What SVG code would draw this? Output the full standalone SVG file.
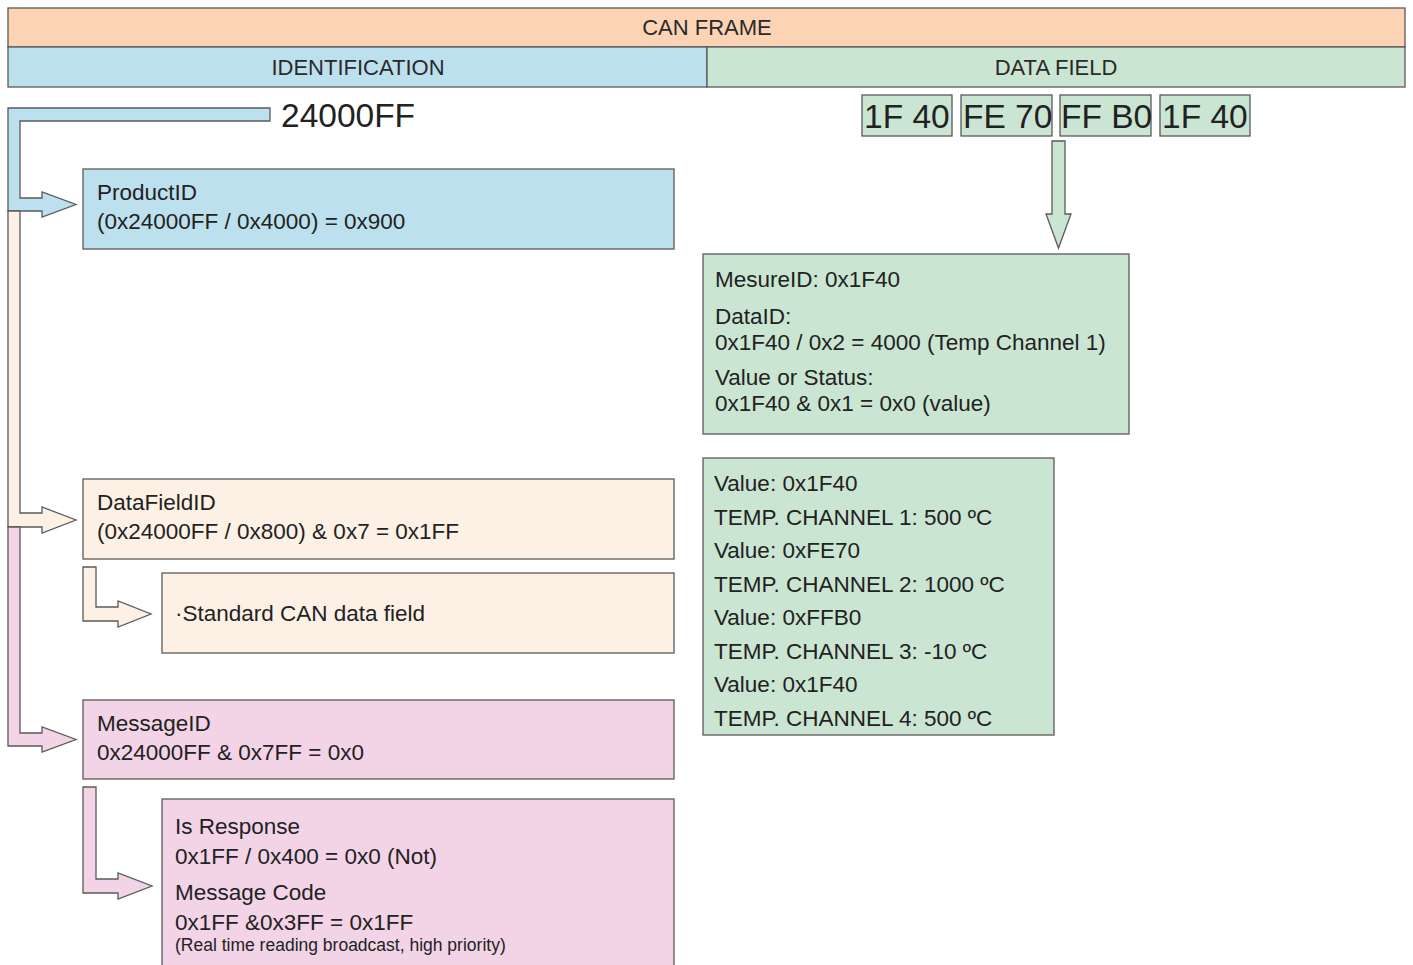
<svg xmlns="http://www.w3.org/2000/svg" width="1413" height="965" viewBox="0 0 1413 965">
<style>
  .t{font-family:"Liberation Sans",Arial,sans-serif;fill:#222;font-size:22.5px}
  .big{font-size:33.5px}
  .sm{font-size:17.5px}
  .hd{font-family:"Liberation Sans",Arial,sans-serif;fill:#2a2a2a;font-size:22px;text-anchor:middle}
  .b{stroke:#5a5a5a;stroke-width:1.3}
  .orange{fill:#fcd3b5}
  .blue{fill:#bde0ef}
  .green{fill:#cbe5d3}
  .beige{fill:#fdf1e6}
  .pink{fill:#f2d4e6}
</style>
<rect width="1413" height="965" fill="#ffffff"/>
<g id="header">
  <rect class="b orange" x="8" y="8" width="1397" height="39"/>
  <text class="hd" x="707" y="35">CAN FRAME</text>
  <rect class="b blue" x="8" y="47" width="699" height="40"/>
  <text class="hd" x="358" y="75">IDENTIFICATION</text>
  <rect class="b green" x="707" y="47" width="698" height="40"/>
  <text class="hd" x="1056" y="75">DATA FIELD</text>
</g>
<g id="connectors">
  <polygon class="b blue" points="270,108 8,108 8,211 42,211 42,217 76,204.5 42,192 42,198 20,198 20,121 270,121"/>
  <polygon class="b beige" points="8,211 8,527 42,527 42,533 76,520 42,507 42,513 20,513 20,211"/>
  <polygon class="b pink" points="8,527 8,746 42,746 42,752 76,739.5 42,727 42,733 20,733 20,527"/>
  <polygon class="b beige" points="83,567 83,621 118,621 118,627 151,614 118,601 118,607 96,607 96,567"/>
  <polygon class="b pink" points="83,787 83,893 118,893 118,899 152,886 118,873 118,879 96,879 96,787"/>
  <polygon class="b green" points="1052,141 1065,141 1065,214 1071,214 1058.5,248 1046,214 1052,214"/>
</g>
<g id="id-value">
  <text class="t big" x="281" y="127">24000FF</text>
</g>
<g id="data-bytes">
  <rect class="b green" x="862" y="95" width="90" height="41"/>
  <text class="t big" x="864" y="128">1F 40</text>
  <rect class="b green" x="961" y="95" width="91" height="41"/>
  <text class="t big" x="963" y="128">FE 70</text>
  <rect class="b green" x="1060" y="95" width="91" height="41"/>
  <text class="t big" x="1061" y="128">FF B0</text>
  <rect class="b green" x="1160" y="95" width="90" height="41"/>
  <text class="t big" x="1162" y="128">1F 40</text>
</g>
<g id="productid">
  <rect class="b blue" x="83" y="169" width="591" height="80"/>
  <text class="t" x="97" y="200">ProductID</text>
  <text class="t" x="97" y="229">(0x24000FF / 0x4000) = 0x900</text>
</g>
<g id="datafieldid">
  <rect class="b beige" x="83" y="479" width="591" height="80"/>
  <text class="t" x="97" y="510">DataFieldID</text>
  <text class="t" x="97" y="539">(0x24000FF / 0x800) &amp; 0x7 = 0x1FF</text>
</g>
<g id="standard">
  <rect class="b beige" x="162" y="573" width="512" height="80"/>
  <text class="t" x="175" y="621">·Standard CAN data field</text>
</g>
<g id="messageid">
  <rect class="b pink" x="83" y="700" width="591" height="79"/>
  <text class="t" x="97" y="731">MessageID</text>
  <text class="t" x="97" y="760">0x24000FF &amp; 0x7FF = 0x0</text>
</g>
<g id="response">
  <rect class="b pink" x="162" y="799" width="512" height="175"/>
  <text class="t" x="175" y="834">Is Response</text>
  <text class="t" x="175" y="864">0x1FF / 0x400 = 0x0 (Not)</text>
  <text class="t" x="175" y="900">Message Code</text>
  <text class="t" x="175" y="930">0x1FF &amp;0x3FF = 0x1FF</text>
  <text class="t sm" x="175" y="951">(Real time reading broadcast, high priority)</text>
</g>
<g id="mesureid">
  <rect class="b green" x="703" y="254" width="426" height="180"/>
  <text class="t" x="715" y="287">MesureID: 0x1F40</text>
  <text class="t" x="715" y="324">DataID:</text>
  <text class="t" x="715" y="350">0x1F40 / 0x2 = 4000 (Temp Channel 1)</text>
  <text class="t" x="715" y="385">Value or Status:</text>
  <text class="t" x="715" y="411">0x1F40 &amp; 0x1 = 0x0 (value)</text>
</g>
<g id="values">
  <rect class="b green" x="703" y="458" width="351" height="277"/>
  <text class="t" x="714" y="491">Value: 0x1F40</text>
  <text class="t" x="714" y="525">TEMP. CHANNEL 1: 500 ºC</text>
  <text class="t" x="714" y="558">Value: 0xFE70</text>
  <text class="t" x="714" y="592">TEMP. CHANNEL 2: 1000 ºC</text>
  <text class="t" x="714" y="625">Value: 0xFFB0</text>
  <text class="t" x="714" y="659">TEMP. CHANNEL 3: -10 ºC</text>
  <text class="t" x="714" y="692">Value: 0x1F40</text>
  <text class="t" x="714" y="726">TEMP. CHANNEL 4: 500 ºC</text>
</g>
</svg>
